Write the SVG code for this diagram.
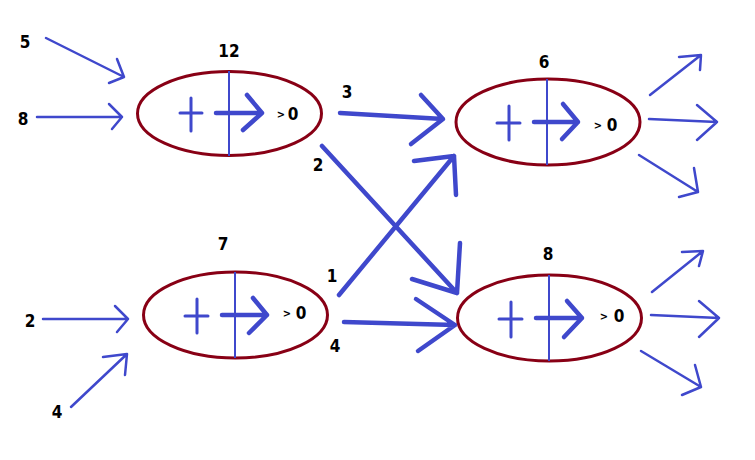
<svg xmlns="http://www.w3.org/2000/svg" width="755" height="460" viewBox="0 0 755 460">
<style>
.bg{fill:#ffffff}
.ell{fill:none;stroke:#880015;stroke-width:3}
.div{stroke:#3f48cc;stroke-width:2;fill:none}
.plus{stroke:#3f48cc;stroke-width:3;fill:none;stroke-linecap:round}
.sym{stroke:#3f48cc;stroke-width:4.5;fill:none;stroke-linecap:round;stroke-linejoin:round}
.thin{stroke:#3f48cc;stroke-width:2.5;fill:none;stroke-linecap:round;stroke-linejoin:round}
.thick{stroke:#3f48cc;stroke-width:4.5;fill:none;stroke-linecap:round;stroke-linejoin:round}
.t{font-family:"Liberation Sans Narrow","DejaVu Sans Condensed","Liberation Sans",sans-serif;font-weight:bold;font-size:17px;fill:#000;text-anchor:middle}
.gt{font-family:"Liberation Sans Narrow","DejaVu Sans Condensed","Liberation Sans",sans-serif;font-weight:bold;font-size:11px;fill:#000;text-anchor:middle}
</style>
<rect class="bg" width="755" height="460"/>

<g id="node-12">
<ellipse class="ell" cx="229.5" cy="113.5" rx="92" ry="42"/>
<line class="div" x1="229" y1="71" x2="229" y2="156"/>
<path class="plus" d="M180 113H202M191 98V131"/>
<path class="sym" d="M216 113H262M247 95L262 113L243 130"/>
<text class="gt" x="281" y="118">&gt;</text>
<text class="t" x="293" y="120">0</text>
<text class="t" x="229" y="57">12</text>
</g>

<g id="node-6">
<ellipse class="ell" cx="548" cy="122" rx="92" ry="43"/>
<line class="div" x1="547" y1="79" x2="547" y2="165"/>
<path class="plus" d="M497 123H520M509 106V140"/>
<path class="sym" d="M534 122H578M563 104L578 122L562 139"/>
<text class="gt" x="598" y="129">&gt;</text>
<text class="t" x="612" y="131">0</text>
<text class="t" x="544" y="68">6</text>
</g>

<g id="node-7">
<ellipse class="ell" cx="235.5" cy="315" rx="92" ry="43"/>
<line class="div" x1="235" y1="272" x2="235" y2="358"/>
<path class="plus" d="M185 316H208M197 299V333"/>
<path class="sym" d="M222 315H267M253 298L267 315L249 333"/>
<text class="gt" x="287" y="317">&gt;</text>
<text class="t" x="301" y="319">0</text>
<text class="t" x="223" y="250">7</text>
</g>

<g id="node-8">
<ellipse class="ell" cx="549.5" cy="318" rx="92" ry="43"/>
<line class="div" x1="549" y1="275" x2="549" y2="361"/>
<path class="plus" d="M499 319H522M511 302V337"/>
<path class="sym" d="M536 318H582M567 301L582 318L564 337"/>
<text class="gt" x="604" y="320">&gt;</text>
<text class="t" x="619" y="322">0</text>
<text class="t" x="548" y="260">8</text>
</g>

<g id="connectors">
<!-- inputs -->
<path class="thin" d="M46 38L124 77M117 59L124 77L109 83"/>
<path class="thin" d="M37 117H122M109 104L122 117L112 129"/>
<path class="thin" d="M43 319H128M115 306L128 319L117 332"/>
<path class="thin" d="M71 407L127 354M103 357L127 354L125 375"/>
<!-- middle -->
<path class="thick" d="M340 113L443 119M421 95L443 119L411 144"/>
<path class="thick" d="M322 146L457 293M460 243L457 293L412 279"/>
<path class="thick" d="M339 295L454 156M414 161L454 156L456 195"/>
<path class="thick" d="M344 322L455 325M416 299L455 325L418 351"/>
<!-- outputs of 6 -->
<path class="thin" d="M650 95L701 55M679 57L701 55L700 70"/>
<path class="thin" d="M649 119L717 122M697 105L717 122L697 140"/>
<path class="thin" d="M639 155L698 192M694 168L698 192L679 197"/>
<!-- outputs of 8 -->
<path class="thin" d="M652 292L703 251M682 252L703 251L699 266"/>
<path class="thin" d="M651 315L719 318M699 301L719 318L699 337"/>
<path class="thin" d="M641 351L701 387M695 365L701 387L682 395"/>
<!-- labels -->
<text class="t" x="25" y="48">5</text>
<text class="t" x="23" y="125">8</text>
<text class="t" x="30" y="327">2</text>
<text class="t" x="57" y="418">4</text>
<text class="t" x="347" y="98">3</text>
<text class="t" x="318" y="171">2</text>
<text class="t" x="332" y="282">1</text>
<text class="t" x="335" y="352">4</text>
</g>
</svg>
